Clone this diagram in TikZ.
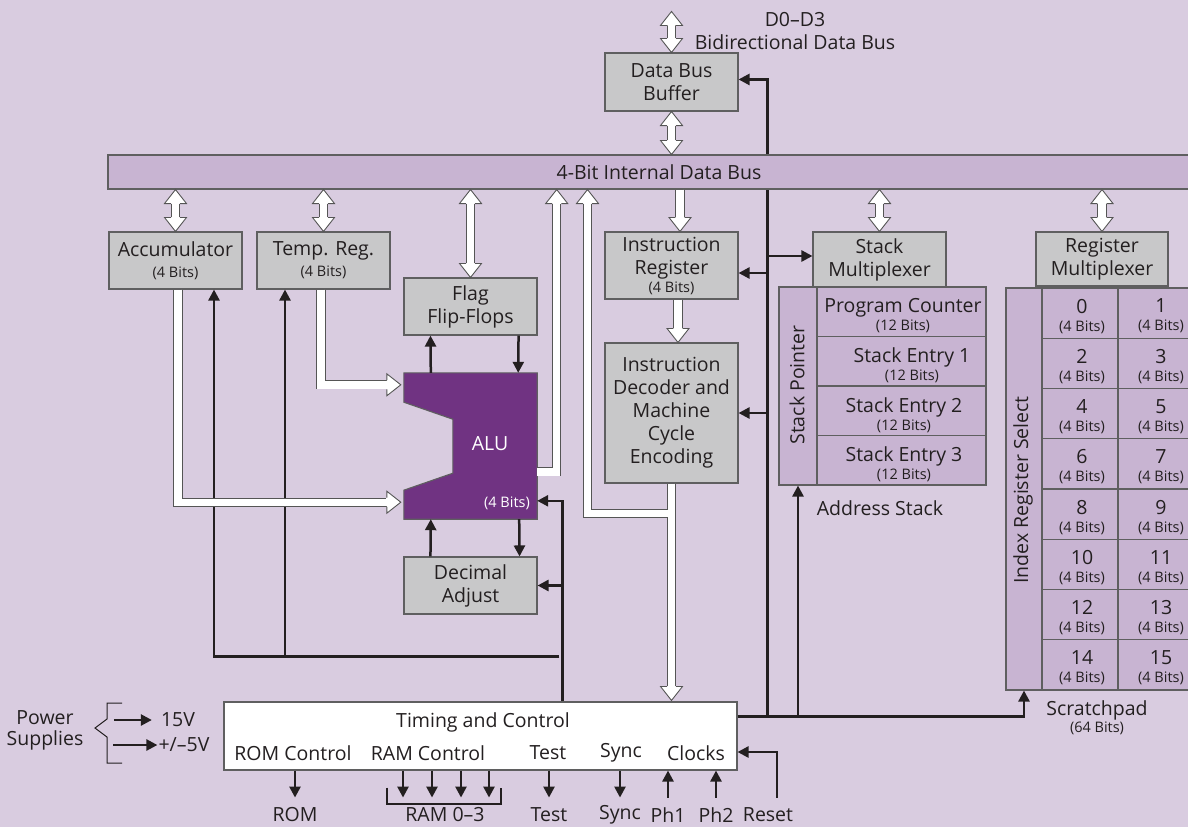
\documentclass[tikz,border=0pt]{standalone}
\usepackage{fontspec}
\setmainfont{Open Sans}
\usetikzlibrary{arrows.meta,calc}
\definecolor{bg}{HTML}{D9CCE0}
\definecolor{busfill}{HTML}{C8B4D2}
\definecolor{boxgray}{HTML}{C8C8C9}
\definecolor{boxedge}{HTML}{5F5F60}
\definecolor{alufill}{HTML}{703382}
\definecolor{txt}{HTML}{231F20}
\definecolor{wedge}{HTML}{555555}
\newcommand\fm{\fontsize{19.5}{23}\selectfont}
\newcommand\fsm{\fontsize{14.5}{16}\selectfont}
\newcommand\whead[2]{%
  \begin{scope}[shift={#1}, rotate=#2]
    \fill[white] (0pt,0pt) -- (-14pt,11pt) -- (-14pt,-11pt) -- cycle;
    \fill[white] (-14.8pt,-3.8pt) rectangle (-13pt,3.8pt);
    \draw[wedge, line width=0.9pt, line join=miter] (-14pt,4.6pt) -- (-14pt,11pt) -- (0pt,0pt) -- (-14pt,-11pt) -- (-14pt,-4.6pt);
  \end{scope}}
\newcommand\vdbl[2]{%
  \draw[wbar] ($#1+(0,14)$) -- ($#2+(0,-14)$);
  \whead{#1}{90}\whead{#2}{-90}}
\begin{document}
\begin{tikzpicture}[x=1pt,y=-1pt,
  every node/.style={text=txt, inner sep=0pt},
  gbox/.style={draw=boxedge, fill=boxgray, line width=1.1pt, align=center, font=\fm},
  pbox/.style={draw=boxedge, fill=busfill, line width=1.1pt},
  lbl/.style={font=\fm, align=center},
  slbl/.style={font=\fsm, align=center},
  blk/.style={draw=txt, line width=2.5pt},
  blkarr/.style={blk, -{Triangle[length=11pt,width=11pt]}},
  wbar/.style={draw=wedge, line width=0.9pt, double=white, double distance=7.4pt, line join=miter},
]
\fill[bg] (0,0) rectangle (1188,827);
\useasboundingbox (0,0) rectangle (1188,827);

% ---------- boxes ----------
\node[pbox, minimum width=1102pt, minimum height=34pt] (bus) at (659,172) {};
\node[lbl] (bustxt) at (bus.center) {4-Bit Internal Data Bus};

\node[gbox, minimum width=133pt, minimum height=58pt] (buf) at (671.5,82) {Data Bus\\Buffer};
\node[lbl] (dlbl) at (795,31) {D0–D3\\Bidirectional Data Bus};

\node[gbox, minimum width=133pt, minimum height=57pt] (acc) at (175.5,260.5) {Accumulator\\[-2pt]{\fsm (4 Bits)}};
\node[gbox, minimum width=133pt, minimum height=57pt] (temp) at (323.5,260.5) {Temp. Reg.\\[-2pt]{\fsm (4 Bits)}};
\node[gbox, minimum width=133pt, minimum height=57pt] (flag) at (470.5,306.5) {Flag\\Flip-Flops};
\node[minimum width=133pt, minimum height=146pt] (alu) at (470.5,446) {};
\draw[draw=boxedge, fill=alufill, line width=1.1pt] (alu.north west) -- (alu.north east) -- (alu.south east) -- (alu.south west) -- ++(0,-29) -- ++(49,-17) -- ++(0,-54) -- ++(-49,-17) -- cycle;
\node[font=\fm, text=white] (alulbl) at (490,444) {ALU};
\node[font=\fsm, text=white] (alubits) at (507,503) {(4 Bits)};
\node[gbox, minimum width=133pt, minimum height=57pt] (dec) at (470.5,585.5) {Decimal\\Adjust};

\node[gbox, minimum width=133pt, minimum height=67pt] (ir) at (671.5,265.5) {Instruction\\Register\\[-5pt]{\fsm (4 Bits)}};
\node[gbox, minimum width=133pt, minimum height=140pt] (idec) at (671.5,413) {Instruction\\Decoder and\\Machine\\Cycle\\Encoding};

\node[gbox, minimum width=133pt, minimum height=55pt] (smux) at (879.5,259.5) {Stack\\Multiplexer};
\node[pbox, minimum width=38pt, minimum height=198pt] (sp) at (798,386) {};
\node[lbl, rotate=90] (sptxt) at (797,385) {Stack Pointer};
\node[pbox, minimum width=169pt, minimum height=49.5pt] (pc) at (901.5,311.75) {};
\node[pbox, minimum width=169pt, minimum height=49.5pt] (se1) at (901.5,361.25) {};
\node[pbox, minimum width=169pt, minimum height=49.5pt] (se2) at (901.5,410.75) {};
\node[pbox, minimum width=169pt, minimum height=49.5pt] (se3) at (901.5,460.25) {};
\node[lbl] (pctxt) at ($(pc)+(1.5,4)$) {Program Counter\\[-5pt]{\fsm (12 Bits)}};
\node[lbl] (se1txt) at ($(se1)+(10.5,4)$) {Stack Entry 1\\[-5pt]{\fsm (12 Bits)}};
\node[lbl] (se2txt) at ($(se2)+(2.5,4)$) {Stack Entry 2\\[-5pt]{\fsm (12 Bits)}};
\node[lbl] (se3txt) at ($(se3)+(2.5,4)$) {Stack Entry 3\\[-5pt]{\fsm (12 Bits)}};
\node[lbl] (astk) at (880,508) {Address Stack};

\node[gbox, minimum width=132pt, minimum height=54pt] (rmux) at (1102,259) {Register\\Multiplexer};
\node[pbox, minimum width=36pt, minimum height=402pt] (irs) at (1024,489) {};
\node[lbl, rotate=90] (irstxt) at (1023,490) {Index Register Select};
\foreach \k in {0,...,7} {
  \pgfmathsetmacro\cy{288+50.25*(\k+0.5)}
  \pgfmathtruncatemacro\a{2*\k}
  \pgfmathtruncatemacro\b{2*\k+1}
  \node[pbox, minimum width=76pt, minimum height=50.25pt] (cell\a) at (1080,\cy) {};
  \node[pbox, minimum width=76pt, minimum height=50.25pt] (cell\b) at (1156,\cy) {};
  \node[lbl] (t\a) at ($(cell\a)+(2,3)$) {\a\\[-5pt]{\fsm (4 Bits)}};
  \node[lbl] (t\b) at ($(cell\b)+(5,3)$) {\b\\[-5pt]{\fsm (4 Bits)}};
}
\node[lbl] (scr) at (1097,710) {Scratchpad};
\node[slbl] (scrb) at (1097,728) {(64 Bits)};

\node[draw=boxedge, fill=white, line width=1.1pt, minimum width=513pt, minimum height=68pt] (tc) at (480.5,736) {};
\node[lbl] (tctitle) at (483,722) {Timing and Control};
\node[lbl] (romc) at (293,753) {ROM Control};
\node[lbl] (ramc) at (428,753) {RAM Control};
\node[lbl] (testc) at (548,753) {Test};
\node[lbl] (syncc) at (621,753) {Sync};
\node[lbl] (clk) at (696,753) {Clocks};

\node[lbl] (rom) at (295,815) {ROM};
\node[lbl] (ram) at (445,815) {RAM 0–3};
\node[lbl] (test) at (549,815) {Test};
\node[lbl] (sync) at (620,815) {Sync};
\node[lbl] (ph1) at (668,815) {Ph1};
\node[lbl] (ph2) at (716,815) {Ph2};
\node[lbl] (reset) at (768,815) {Reset};

\node[lbl] (pow) at (45,730) {Power\\[-2pt]Supplies};
\node[lbl] (v15) at (178,720) {15V};
\node[lbl] (v5) at (184,745) {+/–5V};

% ---------- black connectors ----------
\coordinate (c563) at ($(tc.north west)+(339,0)$);
\coordinate (lb) at ($(c563)+(-3,-45)$);
\draw[blkarr] (lb) -| ($(acc.south)+(38.5,0)$);
\draw[blkarr] ($(lb -| temp.south)+(-38.5,0)$) -- ($(temp.south)+(-38.5,0)$);
\draw[blkarr] (c563) |- ($(alu.north east)+(0,128)$);
\draw[blkarr] (c563 |- dec.east) -- (dec.east);

\draw[blkarr] ($(alu.north west)+(27,0)$) -- ($(flag.south west)+(27,0)$);
\draw[blkarr] ($(flag.south east)+(-19,0)$) -- ($(alu.north east)+(-19,0)$);
\draw[blkarr] ($(dec.north west)+(27,0)$) -- ($(alu.south west)+(27,0)$);
\draw[blkarr] ($(alu.south east)+(-18,0)$) -- ($(dec.north east)+(-18,0)$);

\coordinate (rj) at ($(tc.north east)+(0,15)$);
\coordinate (c767) at ($(rj)+(30,0)$);
\draw[blk] (c767) -- (c767 |- bus.south);
\draw[blkarr] (c767 |- bus.north) |- ($(buf.north east)+(0,27)$);
\draw[blkarr] ($(c767 |- ir.east)+(0,7.5)$) -- ($(ir.east)+(0,7.5)$);
\draw[blkarr] (c767 |- idec.east) -- (idec.east);
\draw[blkarr] ($(c767 |- smux.west)+(0,-3.5)$) -- ($(smux.west)+(0,-3.5)$);
\draw[blkarr] (rj) -| (irs.south);
\draw[blkarr] (rj -| sp.south) -- (sp.south);

\draw[blkarr] (tc.south -| rom) -- ++(0,27);
\foreach \dx in {-42,-13,16,44} {
  \draw[blkarr] ($(tc.south -| ram)+(\dx,0)$) -- ++(0,27);
}
\draw[txt, line width=2pt] ($(tc.south -| ram)+(-58,17)$) -- ++(0,16) -- ++(114,0) -- ++(0,-16);
\draw[blkarr] (tc.south -| test) -- ++(0,27);
\draw[blkarr] (tc.south -| sync) -- ++(0,27);
\draw[blkarr] ($(tc.south -| ph1)+(0,27)$) -- (tc.south -| ph1);
\draw[blkarr] ($(tc.south -| ph2)+(0,27)$) -- (tc.south -| ph2);
\draw[blkarr] ($(tc.south -| reset)+(9,27)$) |- ($(tc.east)+(0,16)$);

\draw[blkarr] ($(v15.west)+(-47,0)$) -- ($(v15.west)+(-9,0)$);
\draw[blkarr] ($(v5.west)+(-45,0)$) -- ($(v5.west)+(-1,0)$);
\draw[txt, line width=1pt] (122,703) -- (107,703) -- (107,719) -- (95,728) -- (107,737) -- (107,763) -- (122,763);

% ---------- white bus arrows ----------
\coordinate (dtop) at ($(buf.north)+(0,-41)$);
\vdbl{(dtop)}{(buf.north)}
\vdbl{(buf.south)}{(buf.south |- bus.north)}
\vdbl{(bus.south -| acc.north)}{(acc.north)}
\vdbl{(bus.south -| temp.north)}{(temp.north)}
\vdbl{(bus.south -| flag.north)}{(flag.north)}
\vdbl{(bus.south -| smux.north)}{(smux.north)}
\vdbl{(bus.south -| rmux.north)}{(rmux.north)}

\draw[wbar] ($(bus.south -| ir.north)+(8.5,0)$) -- ($(ir.north)+(8.5,-14)$);
\whead{($(ir.north)+(8.5,0)$)}{-90}
\draw[wbar] ($(ir.south)+(6.5,0)$) -- ($(idec.north)+(6.5,-14)$);
\whead{($(idec.north)+(6.5,0)$)}{-90}

\draw[wbar] ($(acc.south)+(2.5,0)$) |- ($(alu.south west)+(-17,-17)$);
\whead{($(alu.south west)+(-3,-17)$)}{0}
\draw[wbar] ($(temp.south)+(-2.5,0)$) |- ($(alu.north west)+(-17,12)$);
\whead{($(alu.north west)+(-3,12)$)}{0}

\coordinate (aluo) at ($(alu.north east)+(19.5,99)$);
\draw[wbar] (alu.east |- aluo) -- (aluo) -- ($(aluo |- bus.south)+(0,14)$);
\whead{(aluo |- bus.south)}{90}

\coordinate (brk) at ($(idec.south)+(-84,30)$);
\draw[wbar] (idec.south |- brk) -- (brk) -- ($(brk |- bus.south)+(0,14)$);
\whead{(brk |- bus.south)}{90}
\draw[wbar] (idec.south) -- ($(idec.south |- tc.north)+(0,-15)$);
\whead{($(idec.south |- tc.north)+(0,-1)$)}{-90}
\fill[white] ($(idec.south |- brk)+(-4.8,-3.7)$) rectangle ($(idec.south |- brk)+(-3.5,3.7)$);
\end{tikzpicture}
\end{document}
